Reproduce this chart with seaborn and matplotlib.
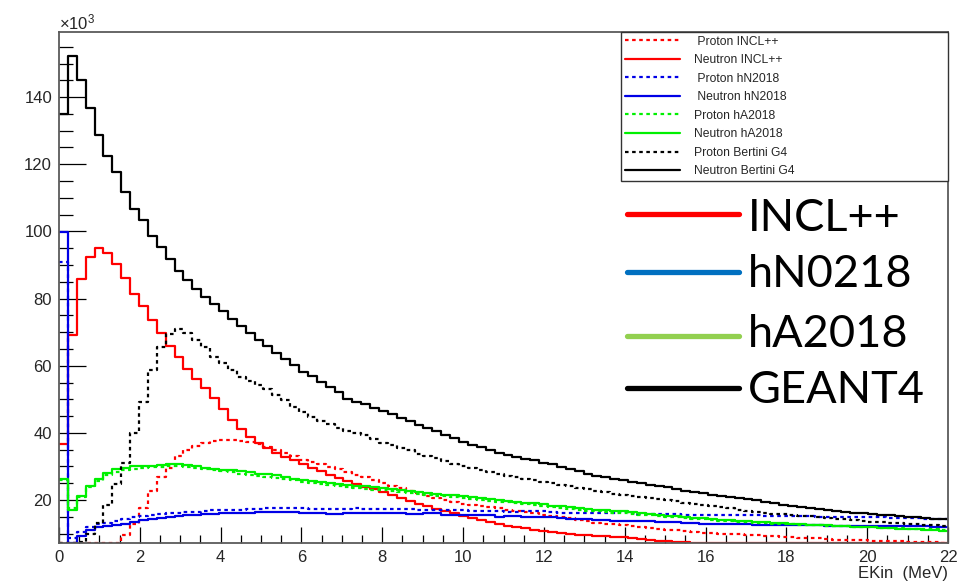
import numpy as np
import pandas as pd
import matplotlib
matplotlib.use("Agg")
import matplotlib.pyplot as plt
import seaborn as sns
from matplotlib.lines import Line2D
from matplotlib.ticker import MultipleLocator

sns.set_style("ticks")
plt.rcParams['font.family'] = ['Liberation Sans', 'DejaVu Sans']
plt.rcParams['mathtext.default'] = 'regular'

# ---------------- data (values in units of 10^3) ----------------
n_bins = 100
e_min, e_max = 0.0, 22.0
y_min, y_max = 7.2, 159.4

proton_incl = [3.0, 3.5, 4.0, 4.5, 5.0, 5.5, 6.5, 9.5, 13.0, 17.5,
               22.8, 26.9, 29.5, 33.0, 35.0, 36.0, 36.9, 37.5, 37.8, 37.9,
               37.7, 37.3, 36.6, 35.8, 34.9, 33.9, 33.0, 32.0, 31.2, 30.6,
               29.9, 29.2, 28.4, 27.6, 27.0, 26.1, 25.0, 24.3, 23.5, 22.8,
               22.0, 21.2, 20.6, 20.0, 19.5, 18.7, 18.4, 18.1, 17.9, 17.5,
               17.1, 16.6, 16.3, 16.0, 15.6, 15.2, 14.8, 14.5, 14.0, 13.7,
               13.3, 13.0, 12.8, 12.6, 12.3, 11.9, 11.7, 11.5, 11.2, 11.0,
               10.8, 10.5, 10.3, 10.2, 10.0, 9.9, 9.8, 9.7, 9.5, 9.4,
               9.3, 9.1, 9.0, 8.8, 8.7, 8.6, 8.4, 8.2, 8.1, 8.1,
               8.0, 7.9, 7.9, 7.8, 7.7, 7.6, 7.6, 7.5, 7.4, 7.3]

neutron_incl = [36.7, 69.3, 85.9, 92.5, 95.1, 93.6, 90.2, 86.2, 81.5, 77.9,
                73.6, 69.6, 66.0, 62.6, 59.0, 56.0, 53.3, 50.3, 47.0, 43.8,
                41.3, 38.9, 36.9, 35.4, 33.9, 32.9, 31.9, 30.6, 29.6, 28.6,
                27.4, 26.6, 25.6, 24.8, 24.0, 23.2, 22.5, 21.5, 20.6, 19.8,
                18.8, 18.1, 17.4, 16.6, 16.0, 15.2, 14.7, 14.0, 13.5, 12.9,
                12.4, 12.0, 11.6, 11.2, 10.8, 10.5, 10.2, 10.0, 9.7, 9.5,
                9.3, 9.2, 9.1, 9.0, 8.6, 8.3, 8.1, 7.9, 7.7, 7.5,
                7.4, 7.3, 7.1, 7.0, 6.9, 6.8, 6.7, 6.6, 6.5, 6.4,
                6.3, 6.2, 6.1, 6.0, 5.9, 5.8, 5.7, 5.6, 5.5, 5.4,
                5.3, 5.2, 5.1, 5.0, 4.9, 4.8, 4.7, 4.6, 4.5, 4.4]

proton_hn = [90.8, 8.6, 10.4, 11.9, 12.8, 13.3, 13.8, 14.2, 14.9, 15.3,
             15.5, 15.7, 16.0, 16.2, 16.3, 16.5, 16.6, 16.9, 17.0, 17.0,
             17.0, 17.2, 17.4, 17.5, 17.6, 17.6, 17.5, 17.5, 17.4, 17.3,
             17.2, 17.3, 17.4, 17.5, 17.4, 17.3, 17.3, 17.2, 17.3, 17.2,
             17.1, 17.0, 17.0, 17.0, 17.0, 16.9, 16.8, 16.8, 16.7, 16.6,
             16.5, 16.5, 16.6, 16.7, 16.6, 16.4, 16.2, 16.1, 16.0, 16.1,
             16.0, 16.1, 16.2, 16.3, 16.0, 15.8, 15.8, 15.8, 15.7, 15.7,
             15.6, 15.5, 15.5, 15.5, 15.5, 15.5, 15.6, 15.5, 15.4, 15.3,
             15.3, 15.3, 15.2, 15.2, 15.1, 15.0, 15.0, 15.0, 15.0, 14.9,
             14.9, 14.8, 14.8, 14.7, 14.6, 14.6, 14.5, 14.4, 14.3, 14.2]

neutron_hn = [99.7, 5.0, 9.3, 11.2, 12.1, 12.4, 12.7, 12.9, 13.5, 14.0,
              14.3, 14.7, 15.0, 15.2, 15.5, 15.6, 15.7, 15.8, 16.0, 16.0,
              16.2, 16.2, 16.3, 16.3, 16.3, 16.3, 16.3, 16.0, 16.2, 16.1,
              15.8, 15.9, 16.0, 16.1, 16.1, 16.0, 16.0, 16.0, 16.0, 15.8,
              15.9, 16.0, 16.1, 15.6, 15.5, 15.5, 15.5, 15.5, 15.4, 15.0,
              15.1, 15.1, 15.0, 15.0, 15.0, 14.9, 14.5, 14.2, 14.2, 14.2,
              14.0, 14.0, 13.8, 13.8, 13.8, 13.8, 13.7, 13.6, 13.4, 13.4,
              13.3, 13.1, 13.0, 12.9, 12.9, 12.9, 12.8, 12.8, 12.7, 12.7,
              12.6, 12.6, 12.6, 12.6, 12.5, 12.5, 12.4, 12.4, 12.4, 12.4,
              12.4, 12.3, 12.3, 12.3, 12.3, 12.2, 12.2, 12.2, 12.1, 12.1]

proton_ha = [26.0, 17.5, 21.0, 23.8, 25.8, 27.6, 28.4, 28.9, 29.3, 29.6,
             29.7, 29.8, 30.0, 30.0, 29.8, 29.6, 29.2, 28.8, 28.5, 28.2,
             27.9, 27.6, 27.3, 27.0, 26.7, 26.3, 25.9, 25.5, 25.1, 24.8,
             24.6, 24.3, 24.0, 23.7, 23.4, 23.1, 22.9, 22.6, 22.3, 22.0,
             21.8, 21.5, 21.3, 21.1, 20.9, 20.6, 20.3, 20.1, 19.8, 19.5,
             19.3, 19.0, 18.8, 18.6, 18.3, 18.0, 17.7, 17.4, 17.1, 16.8,
             16.6, 16.4, 16.2, 16.0, 15.8, 15.6, 15.4, 15.2, 15.0, 14.8,
             14.6, 14.4, 14.2, 14.0, 13.9, 13.7, 13.6, 13.4, 13.3, 13.2,
             13.0, 12.9, 12.8, 12.7, 12.6, 12.5, 12.4, 12.3, 12.2, 12.1,
             12.0, 11.9, 11.8, 11.7, 11.6, 11.5, 11.5, 11.4, 11.3, 11.2]

neutron_ha = [26.3, 17.0, 21.2, 24.1, 26.2, 28.1, 29.1, 29.6, 30.0, 30.1,
              30.2, 30.4, 30.8, 30.6, 30.3, 30.1, 29.6, 29.3, 29.0, 28.8,
              28.5, 28.2, 27.9, 27.8, 27.4, 26.9, 26.4, 26.0, 25.6, 25.3,
              25.1, 24.9, 24.6, 24.3, 24.1, 23.9, 23.7, 23.2, 22.9, 22.6,
              22.3, 22.0, 21.8, 21.6, 21.4, 21.2, 20.9, 20.6, 20.3, 20.0,
              19.8, 19.5, 19.2, 19.0, 18.7, 18.3, 18.1, 17.9, 17.6, 17.4,
              17.1, 17.0, 16.8, 16.6, 16.3, 16.0, 15.8, 15.6, 15.3, 15.1,
              14.9, 14.7, 14.5, 14.3, 14.1, 14.0, 13.8, 13.7, 13.5, 13.4,
              13.2, 13.1, 12.9, 12.8, 12.7, 12.6, 12.5, 12.3, 12.2, 12.1,
              12.0, 11.9, 11.8, 11.7, 11.5, 11.4, 11.3, 11.2, 11.0, 10.9]

proton_g4 = [5.0, 6.0, 7.5, 9.8, 13.2, 18.4, 24.8, 31.0, 40.0, 49.3,
             58.6, 65.7, 69.4, 70.9, 69.6, 67.6, 65.7, 62.7, 60.7, 58.7,
             56.7, 55.5, 54.2, 53.0, 51.3, 49.8, 47.8, 46.3, 44.6, 43.4,
             42.5, 41.6, 40.6, 40.0, 39.3, 38.2, 36.9, 36.3, 35.6, 34.8,
             33.8, 33.2, 32.6, 31.6, 30.8, 30.2, 29.6, 29.0, 28.4, 27.9,
             27.3, 26.9, 26.4, 26.0, 25.5, 25.1, 24.6, 24.1, 23.7, 23.3,
             22.8, 22.3, 21.9, 21.6, 21.2, 20.9, 20.6, 20.3, 19.9, 19.6,
             19.2, 18.9, 18.6, 18.2, 17.9, 17.5, 17.1, 16.7, 16.4, 16.1,
             15.9, 15.7, 15.5, 15.3, 15.1, 14.9, 14.7, 14.4, 14.2, 14.0,
             13.8, 13.6, 13.4, 13.3, 13.1, 12.9, 12.8, 12.7, 12.5, 12.4]

neutron_g4 = [134.9, 152.2, 145.0, 136.7, 128.6, 122.4, 117.7, 111.6, 106.7, 103.4,
              98.6, 95.4, 91.7, 88.3, 85.5, 82.8, 80.5, 78.3, 76.2, 74.0,
              71.8, 69.8, 67.8, 65.8, 63.8, 62.0, 60.1, 58.0, 56.8, 55.3,
              53.6, 52.3, 50.2, 49.2, 48.5, 47.4, 46.4, 45.5, 44.3, 43.5,
              42.4, 41.6, 40.6, 39.4, 38.5, 37.2, 36.4, 35.7, 34.9, 34.0,
              33.5, 32.9, 32.3, 31.8, 31.1, 30.6, 29.9, 29.2, 28.5, 27.9,
              27.3, 26.9, 26.4, 25.9, 25.4, 25.0, 24.6, 24.1, 23.8, 23.3,
              22.8, 22.4, 22.0, 21.6, 21.3, 21.0, 20.6, 20.3, 19.9, 19.5,
              19.0, 18.5, 18.2, 17.9, 17.5, 17.2, 16.9, 16.6, 16.4, 16.2,
              16.0, 15.8, 15.6, 15.4, 15.2, 15.0, 14.8, 14.6, 14.4, 14.2]

series_labels = [" Proton INCL++", "Neutron INCL++", " Proton hN2018", " Neutron hN2018",
                 "Proton hA2018", "Neutron hA2018", "Proton Bertini G4", "Neutron Bertini G4"]
series_values = [proton_incl, neutron_incl, proton_hn, neutron_hn,
                 proton_ha, neutron_ha, proton_g4, neutron_g4]
series_colors = ["#ff0000", "#ff0000", "#0000e6", "#0000e6",
                 "#00f000", "#00f000", "#000000", "#000000"]
series_dotted = [True, False, True, False, True, False, True, False]

model_labels = ["INCL++", "hN0218", "hA2018", "GEANT4"]
model_colors = ["#ff0000", "#0070c0", "#92d050", "#000000"]

# ---------------- figure ----------------
W, H = 969, 587
fig = plt.figure(figsize=(W / 100, H / 100), dpi=100)
ax = fig.add_axes([59 / W, 1 - 543 / H, (948 - 59) / W, (543 - 32) / H])

width = (e_max - e_min) / n_bins
centers = e_min + width * (np.arange(n_bins) + 0.5)

dotted = (0, (1.6, 1.6))
handles = []
for lab, vals, col, dot in zip(series_labels, series_values, series_colors, series_dotted):
    df = pd.DataFrame({"EKin": centers, "counts": np.clip(np.asarray(vals), y_min, None)})
    ls = dotted if dot else "-"
    sns.histplot(data=df, x="EKin", weights="counts", bins=n_bins,
                 binrange=(e_min, e_max), element="step",
                 fill=False, color=col, linewidth=1.6, linestyle=ls, ax=ax)
    handles.append(Line2D([0], [0], color=col, lw=1.6, linestyle=ls, label=lab))

ax.set_xlim(e_min, e_max)
ax.set_ylim(y_min, y_max)
ax.set_ylabel("")
ax.set_xlabel("EKin  (MeV)", loc="right", fontsize=12, labelpad=1)

ax.xaxis.set_major_locator(MultipleLocator(2))
ax.xaxis.set_minor_locator(MultipleLocator(0.5))
ax.yaxis.set_major_locator(MultipleLocator(20))
ax.yaxis.set_minor_locator(MultipleLocator(5))
ax.tick_params(axis="both", which="both", direction="in", top=False, right=False,
               labelsize=12, width=0.9, color="black")
ax.tick_params(axis="y", which="major", length=19.5, pad=5)
ax.tick_params(axis="y", which="minor", length=9.8)
ax.tick_params(axis="x", which="major", length=11.5, pad=5)
ax.tick_params(axis="x", which="minor", length=5.8)
for s in ax.spines.values():
    s.set_visible(True)
    s.set_color("#5a5a5a")
    s.set_linewidth(1.3)

fig.text(59 / W, 1 - 29 / H, r"$\times$10$^{3}$", fontsize=12, ha="left", va="baseline")

# small ROOT-style legend
leg = ax.legend(handles=handles, loc="upper left",
                bbox_to_anchor=((621 - 59) / 889, 0.0, (948 - 621) / 889, 1.0),
                mode="expand", borderaxespad=0, fontsize=8.7, frameon=True,
                fancybox=False, edgecolor="#333333", framealpha=1,
                handlelength=4.6, handletextpad=1.15, borderpad=0.3,
                labelspacing=0.54)
leg.get_frame().set_linewidth(1.0)

# big overlay legend
line_y = [214, 272, 336, 388]
text_base = [231, 287, 347, 403]
for lab, col, ly, tb in zip(model_labels, model_colors, line_y, text_base):
    fig.add_artist(Line2D([627 / W, 739 / W], [1 - ly / H, 1 - ly / H],
                          color=col, lw=3.8, transform=fig.transFigure))
    fig.text(748 / W, 1 - tb / H, lab, fontsize=32.5, family=["Lato", "DejaVu Sans"],
             ha="left", va="baseline", color="black")

fig.savefig("out.png", dpi=100, facecolor="white")
